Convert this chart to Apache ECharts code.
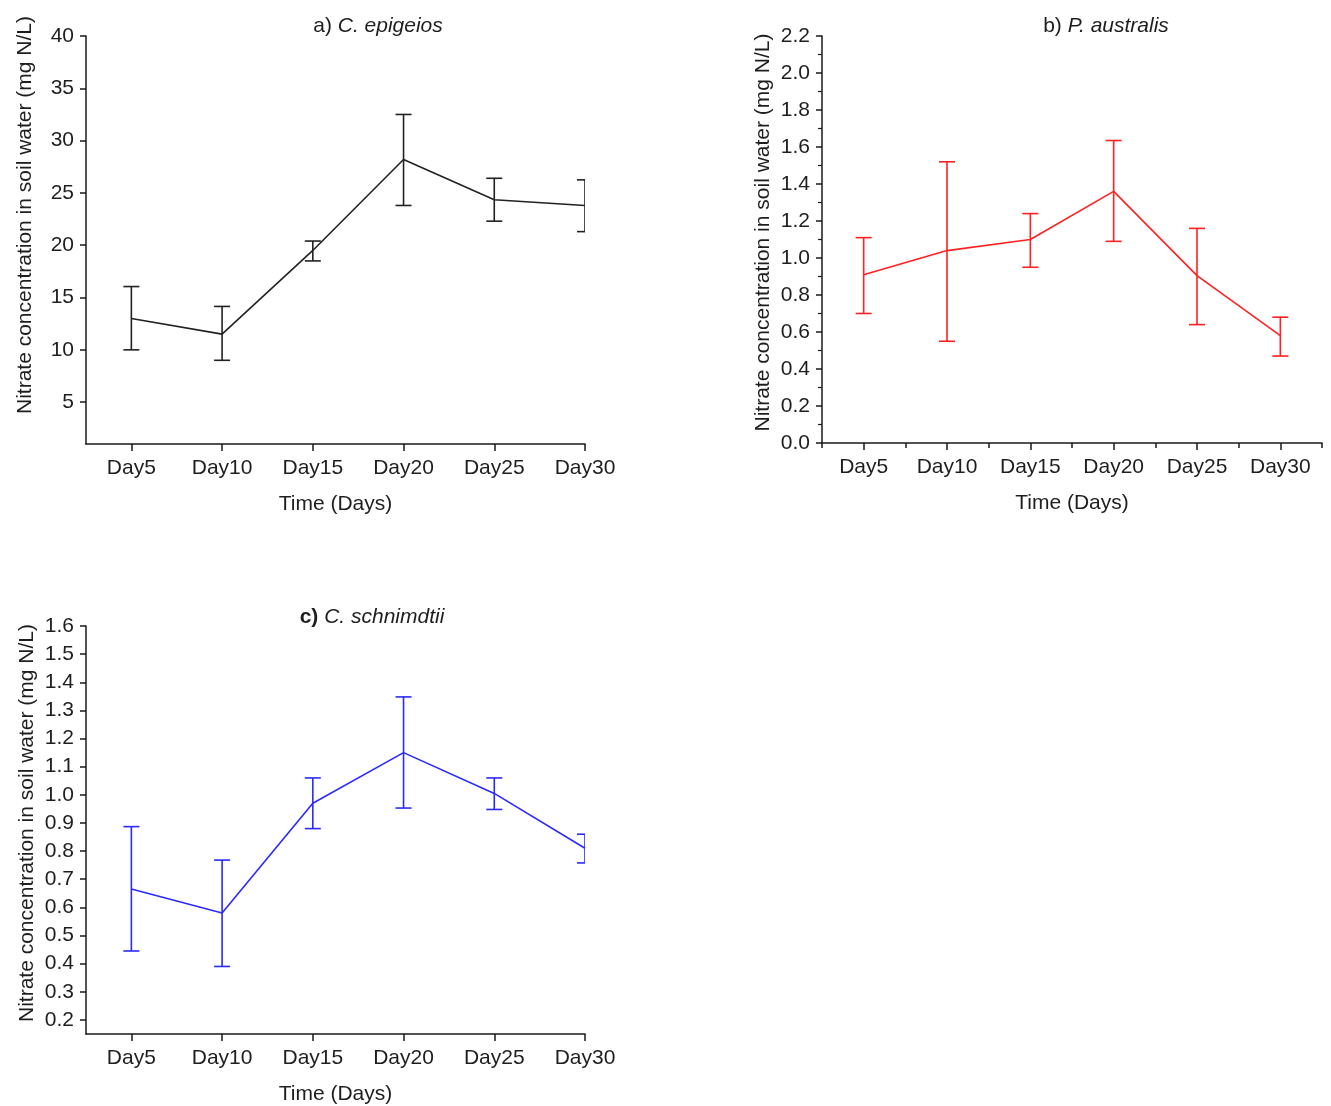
<!DOCTYPE html>
<html>
<head>
<meta charset="utf-8">
<script src="https://cdn.jsdelivr.net/npm/echarts@6/dist/echarts.min.js"></script>
<style>
html,body{margin:0;padding:0;background:#fff;}
#chart{width:1331px;height:1106px;}
</style>
</head>
<body>
<div id="chart"></div>
<script>
// ---- data ----
const days = [5, 10, 15, 20, 25, 30];
const dayLabels = ['Day5', 'Day10', 'Day15', 'Day20', 'Day25', 'Day30'];

const epigeiosMean = [13.0, 11.5, 19.5, 28.2, 24.35, 23.8];
const epigeiosLow  = [10.0, 9.0, 18.5, 23.8, 22.3, 21.3];
const epigeiosHigh = [16.05, 14.15, 20.4, 32.5, 26.4, 26.25];

const australisMean = [0.91, 1.04, 1.10, 1.36, 0.905, 0.58];
const australisLow  = [0.70, 0.55, 0.95, 1.09, 0.64, 0.47];
const australisHigh = [1.11, 1.52, 1.24, 1.635, 1.16, 0.68];

const schnimdtiiMean = [0.665, 0.58, 0.97, 1.15, 1.005, 0.81];
const schnimdtiiLow  = [0.445, 0.39, 0.88, 0.953, 0.948, 0.758];
const schnimdtiiHigh = [0.887, 0.768, 1.06, 1.348, 1.06, 0.86];

const ticksA = [5, 10, 15, 20, 25, 30, 35, 40];
const ticksB = [0, 0.2, 0.4, 0.6, 0.8, 1.0, 1.2, 1.4, 1.6, 1.8, 2.0, 2.2];
const minorTicksB = [0.1, 0.3, 0.5, 0.7, 0.9, 1.1, 1.3, 1.5, 1.7, 1.9, 2.1];
const ticksC = [0.2, 0.3, 0.4, 0.5, 0.6, 0.7, 0.8, 0.9, 1.0, 1.1, 1.2, 1.3, 1.4, 1.5, 1.6];
const minorDaysB = [2.5, 7.5, 12.5, 17.5, 22.5, 27.5, 32.5];

// ---- helpers ----
const FONT = 'Liberation Sans';
const FS = 21;
const AX = '#1a1a1a';
const TXT = '#1e1e1e';
const YNAME = 'Nitrate concentration in soil water (mg N/L)';

function pairs(mean) { return days.map((d, i) => [d, mean[i]]); }
function errData(low, high) { return days.map((d, i) => [d, low[i], high[i]]); }

function errSeries(idx, low, high, color) {
  return {
    type: 'custom',
    xAxisIndex: idx, yAxisIndex: idx,
    clip: true,
    z: 3,
    data: errData(low, high),
    renderItem: function (params, api) {
      const x = api.value(0);
      const lo = api.coord([x, api.value(1)]);
      const hi = api.coord([x, api.value(2)]);
      const w = 8;
      const st = { stroke: color, lineWidth: 1.6 };
      return {
        type: 'group',
        children: [
          { type: 'line', shape: { x1: lo[0], y1: lo[1], x2: hi[0], y2: hi[1] }, style: st },
          { type: 'line', shape: { x1: hi[0] - w, y1: hi[1], x2: hi[0] + w, y2: hi[1] }, style: st },
          { type: 'line', shape: { x1: lo[0] - w, y1: lo[1], x2: lo[0] + w, y2: lo[1] }, style: st }
        ]
      };
    }
  };
}

function lineSeries(idx, mean, color) {
  return {
    type: 'line',
    xAxisIndex: idx, yAxisIndex: idx,
    data: pairs(mean),
    symbol: 'none',
    lineStyle: { color: color, width: 1.6 },
    z: 4
  };
}

function xAxisMain(grid, min, max) {
  return {
    type: 'value', gridIndex: grid, min: min, max: max,
    name: 'Time (Days)', nameLocation: 'middle', nameGap: 50,
    nameTextStyle: { fontFamily: FONT, fontSize: FS, color: TXT },
    axisLine: { show: true, lineStyle: { color: AX, width: 1.5 } },
    axisTick: { show: true, length: 7, lineStyle: { color: AX, width: 1.5 }, customValues: days },
    axisLabel: { fontFamily: FONT, fontSize: FS, color: TXT, margin: 14,
      customValues: days, formatter: v => dayLabels[days.indexOf(Math.round(v))] || '' },
    splitLine: { show: false }
  };
}

function yAxis(grid, min, max, ticks, dec, gap, shift) {
  return {
    type: 'value', gridIndex: grid, min: min, max: max,
    name: YNAME, nameLocation: 'middle', nameGap: gap,
    nameTextStyle: { fontFamily: FONT, fontSize: FS, color: TXT, padding: [0, 0, 0, shift] },
    axisLine: { show: true, lineStyle: { color: AX, width: 1.5 } },
    axisTick: { show: true, length: 6, lineStyle: { color: AX, width: 1.5 }, customValues: ticks },
    axisLabel: { fontFamily: FONT, fontSize: FS, color: TXT, margin: 12,
      customValues: ticks, formatter: v => v.toFixed(dec) },
    splitLine: { show: false }
  };
}

const richNorm = { fontFamily: FONT, fontSize: FS, fontWeight: 'normal', color: TXT };
const richIt = { fontFamily: FONT, fontSize: FS, fontWeight: 'normal', fontStyle: 'italic', color: TXT };
const richBold = { fontFamily: FONT, fontSize: FS, fontWeight: 'bold', color: TXT };

const option = {
  backgroundColor: '#fff',
  animation: false,
  title: [
    { text: '{n|a) }{i|C. epigeios}', left: 373, top: 11, textAlign: 'center',
      textStyle: { fontWeight: 'normal', rich: { n: richNorm, i: richIt } } },
    { text: '{n|b) }{i|P. australis}', left: 1101, top: 11, textAlign: 'center',
      textStyle: { fontWeight: 'normal', rich: { n: richNorm, i: richIt } } },
    { text: '{n|c) }{i|C. schnimdtii}', left: 367, top: 602, textAlign: 'center',
      textStyle: { fontWeight: 'normal', rich: { n: richBold, i: richIt } } }
  ],
  grid: [
    { left: 86, top: 36, width: 499, height: 408 },
    { left: 822, top: 36, width: 500, height: 407 },
    { left: 86, top: 626, width: 499, height: 408 }
  ],
  xAxis: [
    xAxisMain(0, 2.5, 30),
    xAxisMain(1, 2.5, 32.5),
    xAxisMain(2, 2.5, 30),
    {
      type: 'value', gridIndex: 1, min: 2.5, max: 32.5, position: 'bottom',
      axisLine: { show: false },
      axisTick: { show: true, length: 5, lineStyle: { color: AX, width: 1.5 }, customValues: minorDaysB },
      axisLabel: { show: false },
      splitLine: { show: false }
    }
  ],
  yAxis: [
    yAxis(0, 1, 40, ticksA, 0, 50, 50),
    yAxis(1, 0, 2.2, ticksB, 1, 48, 14),
    yAxis(2, 0.15, 1.6, ticksC, 1, 48, 14),
    {
      type: 'value', gridIndex: 1, min: 0, max: 2.2, position: 'left',
      axisLine: { show: false },
      axisTick: { show: true, length: 4, lineStyle: { color: AX, width: 1.2 }, customValues: minorTicksB },
      axisLabel: { show: false },
      splitLine: { show: false }
    }
  ],
  series: [
    lineSeries(0, epigeiosMean, '#222222'),
    errSeries(0, epigeiosLow, epigeiosHigh, '#222222'),
    lineSeries(1, australisMean, '#ff2020'),
    errSeries(1, australisLow, australisHigh, '#ff2020'),
    lineSeries(2, schnimdtiiMean, '#2a2aff'),
    errSeries(2, schnimdtiiLow, schnimdtiiHigh, '#2a2aff')
  ]
};

const chart = echarts.init(document.getElementById('chart'), null, { renderer: 'canvas' });
chart.setOption(option);
</script>
</body>
</html>
